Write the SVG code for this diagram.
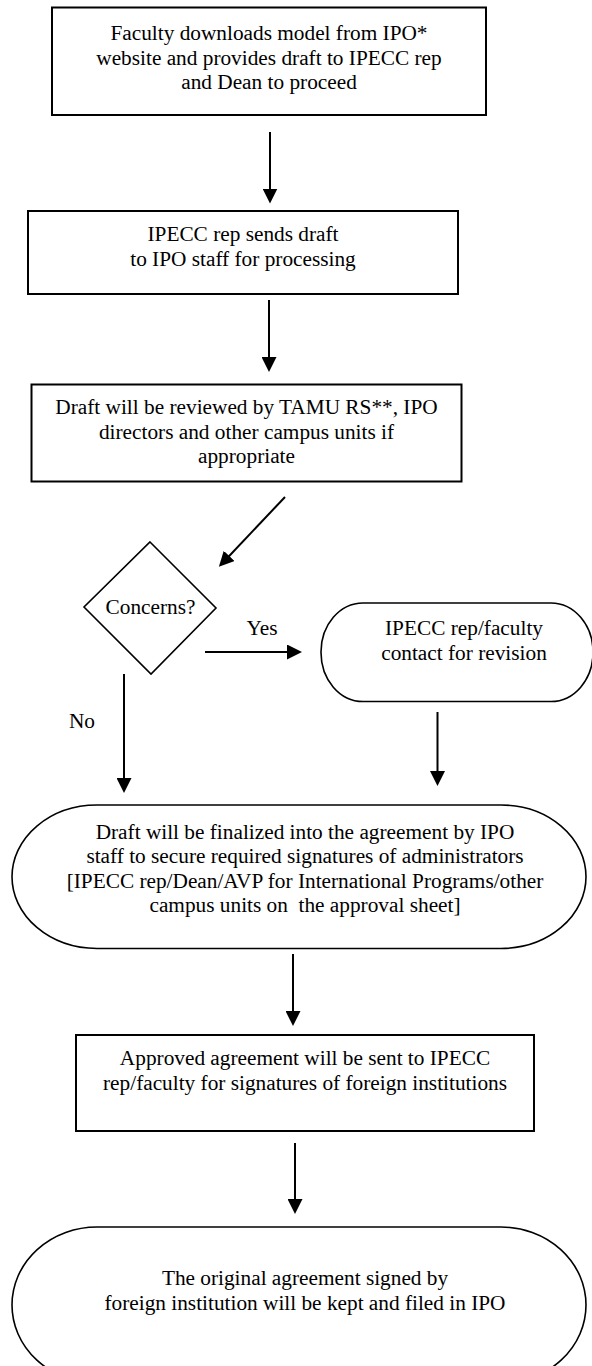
<svg xmlns="http://www.w3.org/2000/svg" width="592" height="1366" viewBox="0 0 592 1366">
<style>
.box{fill:#fff;stroke:#000;stroke-width:2}
.term{fill:#fff;stroke:#000;stroke-width:1.6}
.t{font-family:"Liberation Serif","Times New Roman",serif;font-size:21.3px;fill:#000;text-anchor:middle}
.c{stroke:#000;stroke-width:2;fill:none;marker-end:url(#ah)}
</style>
<defs>
<marker id="ah" markerUnits="userSpaceOnUse" markerWidth="15" markerHeight="15" refX="1" refY="7.5" orient="auto">
<path d="M0,0 L15,7.5 L0,15 z" fill="#000"/>
</marker>
</defs>
<rect width="592" height="1366" fill="#fff"/>
<g id="connectors">
<line class="c" x1="270" y1="132" x2="270" y2="189.5"/>
<line class="c" x1="269" y1="300" x2="269" y2="358"/>
<line class="c" x1="285" y1="497" x2="228.5" y2="556.7"/>
<line class="c" x1="205" y1="652" x2="288" y2="652"/>
<line class="c" x1="124" y1="674" x2="124" y2="779"/>
<line class="c" x1="437.5" y1="712" x2="437.5" y2="772"/>
<line class="c" x1="293" y1="954" x2="293" y2="1012"/>
<line class="c" x1="295" y1="1143" x2="295" y2="1200"/>
<text class="t" x="262" y="635">Yes</text>
<text class="t" x="82" y="728">No</text>
</g>
<g id="n1">
<rect class="box" x="52" y="7.5" width="434" height="107.5"/>
<text class="t" x="269" y="40">Faculty downloads model from IPO*</text>
<text class="t" x="269" y="64.5">website and provides draft to IPECC rep</text>
<text class="t" x="269" y="89">and Dean to proceed</text>
</g>
<g id="n2">
<rect class="box" x="28" y="211" width="430" height="83"/>
<text class="t" x="243" y="241">IPECC rep sends draft</text>
<text class="t" x="243" y="266">to IPO staff for processing</text>
</g>
<g id="n3">
<rect class="box" x="31.5" y="384.5" width="430" height="97"/>
<text class="t" x="246.5" y="414">Draft will be reviewed by TAMU RS**, IPO</text>
<text class="t" x="246.5" y="438.5">directors and other campus units if</text>
<text class="t" x="246.5" y="463">appropriate</text>
</g>
<g id="n4">
<polygon class="term" points="150,542 216,608 151,674 84,607"/>
<text class="t" x="150.5" y="614">Concerns?</text>
</g>
<g id="n5">
<rect class="term" x="321" y="603" width="272" height="98.5" rx="42" ry="49"/>
<text class="t" x="464" y="635">IPECC rep/faculty</text>
<text class="t" x="464" y="659.5">contact for revision</text>
</g>
<g id="n6">
<rect class="term" x="12" y="805" width="574" height="143.5" rx="85" ry="71.75"/>
<text class="t" x="305" y="839">Draft will be finalized into the agreement by IPO</text>
<text class="t" x="305" y="863">staff to secure required signatures of administrators</text>
<text class="t" x="305" y="887.5">[IPECC rep/Dean/AVP for International Programs/other</text>
<text class="t" x="305" y="912" xml:space="preserve">campus units on  the approval sheet]</text>
</g>
<g id="n7">
<rect class="box" x="76" y="1035" width="458" height="96"/>
<text class="t" x="305" y="1065">Approved agreement will be sent to IPECC</text>
<text class="t" x="305" y="1090">rep/faculty for signatures of foreign institutions</text>
</g>
<g id="n8">
<rect class="term" x="12" y="1227" width="574" height="156" rx="85" ry="78"/>
<text class="t" x="305" y="1285">The original agreement signed by</text>
<text class="t" x="305" y="1309.5">foreign institution will be kept and filed in IPO</text>
</g>
</svg>
